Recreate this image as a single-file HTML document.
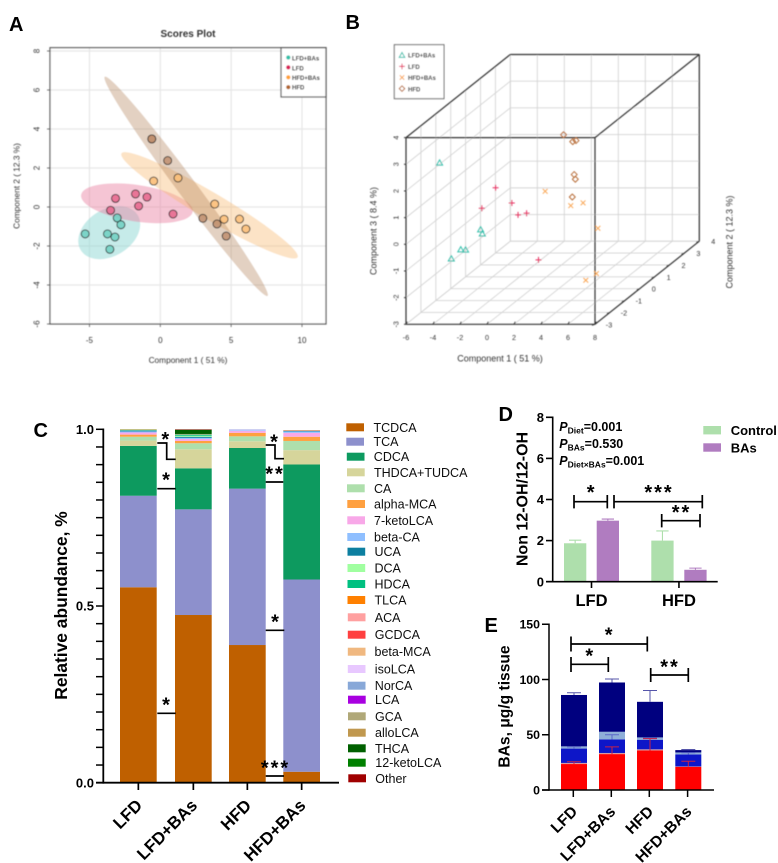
<!DOCTYPE html>
<html lang="en">
<head>
<meta charset="utf-8">
<title>Bile acid figure</title>
<style>
html,body{margin:0;padding:0;background:#fff;width:778px;height:863px;overflow:hidden}
svg{display:block;font-family:"Liberation Sans",sans-serif}
.lg{font-size:12.5px;fill:#111}
.st{font-size:20px;font-weight:bold;text-anchor:middle;fill:#000}
.sl{fill:none;stroke:#000;stroke-width:1.7}
.pl{font-size:20px;font-weight:bold;fill:#000}
.bt{font-weight:bold;fill:#000}
</style>
</head>
<body>
<svg id="figure" width="778" height="863" viewBox="0 0 778 863" xmlns="http://www.w3.org/2000/svg">
<defs>
<filter id="soft" filterUnits="userSpaceOnUse" x="0" y="0" width="778" height="863"><feGaussianBlur stdDeviation="0.4"/></filter>
<filter id="soft2" filterUnits="userSpaceOnUse" x="0" y="0" width="778" height="863"><feGaussianBlur stdDeviation="0.28"/></filter>
</defs>
<rect width="778" height="863" fill="#fff"/>

<g id="panelA" filter="url(#soft)">
  <text x="188" y="37" font-size="10" font-weight="bold" fill="#333" text-anchor="middle">Scores Plot</text>
  <text x="188" y="363" font-size="8.3" fill="#333" text-anchor="middle">Component 1 ( 51 %)</text>
  <text transform="translate(19.5,186) rotate(-90)" font-size="8.3" fill="#333" text-anchor="middle">Component 2 ( 12.3 %)</text>
</g>

<g id="panelB" filter="url(#soft)">
  <text x="500" y="361.5" font-size="9" fill="#333" text-anchor="middle">Component 1 ( 51 %)</text>
  <text transform="translate(376.5,231) rotate(-90)" font-size="9" fill="#333" text-anchor="middle">Component 3 ( 8.4 %)</text>
  <text transform="translate(732.5,242) rotate(-90)" font-size="9" fill="#333" text-anchor="middle">Component 2 ( 12.3 %)</text>
</g>

<g id="panelC" filter="url(#soft2)">
  <text transform="translate(67,605.5) rotate(-90)" font-size="17.4" class="bt" text-anchor="middle">Relative abundance, %</text>
</g>
<g id="cSig" filter="url(#soft2)">
  <polyline class="sl" points="157.3,443 166.7,443 166.7,459.3 175.7,459.3"/>
  <text class="st" x="165.3" y="446">*</text>
  <line class="sl" x1="157.3" x2="175.7" y1="488.7" y2="488.7"/>
  <text class="st" x="166" y="486.7">*</text>
  <line class="sl" x1="157.3" x2="175.7" y1="713.3" y2="713.3"/>
  <text class="st" x="166" y="711.3">*</text>
  <polyline class="sl" points="265.7,445 275,445 275,458.7 284,458.7"/>
  <text class="st" x="274" y="448.3">*</text>
  <line class="sl" x1="265.7" x2="283.3" y1="482" y2="482"/>
  <text class="st" x="275" y="480.7" letter-spacing="2">**</text>
  <line class="sl" x1="265.7" x2="284.3" y1="630.3" y2="630.3"/>
  <text class="st" x="275" y="628.3">*</text>
  <line class="sl" x1="265.7" x2="284" y1="776" y2="776"/>
  <text class="st" x="275.5" y="774.3" letter-spacing="2">***</text>
</g>

<g id="cLegend" filter="url(#soft2)">
  <rect x="346.3" y="423.3" width="17.7" height="8" fill="#BF6000"/><text class="lg" x="373.5" y="431.8">TCDCA</text>
  <rect x="346.3" y="437.7" width="17.7" height="8" fill="#8D90CC"/><text class="lg" x="373.5" y="446.2">TCA</text>
  <rect x="346.8" y="452.7" width="17.7" height="8" fill="#0A9A5F"/><text class="lg" x="373.8" y="461.2">CDCA</text>
  <rect x="347" y="468.3" width="17.7" height="8" fill="#D6D59B"/><text class="lg" x="374" y="476.8">THDCA+TUDCA</text>
  <rect x="347" y="484.3" width="17.7" height="8" fill="#AEDFAC"/><text class="lg" x="374" y="492.8">CA</text>
  <rect x="347.3" y="500" width="17.7" height="8" fill="#FFA040"/><text class="lg" x="374" y="508.5">alpha-MCA</text>
  <rect x="347.3" y="516.3" width="17.7" height="8" fill="#F8A8E8"/><text class="lg" x="374" y="524.8">7-ketoLCA</text>
  <rect x="347.3" y="533" width="17.7" height="8" fill="#8FBFFF"/><text class="lg" x="374" y="541.5">beta-CA</text>
  <rect x="347.5" y="547.7" width="17.7" height="8" fill="#0A7FA0"/><text class="lg" x="374.5" y="556.2">UCA</text>
  <rect x="347.5" y="564" width="17.7" height="8" fill="#A0FFA0"/><text class="lg" x="374.5" y="572.5">DCA</text>
  <rect x="347.5" y="580" width="17.7" height="8" fill="#00C080"/><text class="lg" x="374.5" y="588.5">HDCA</text>
  <rect x="347.5" y="596" width="17.7" height="8" fill="#FF8000"/><text class="lg" x="374.5" y="604.5">TLCA</text>
  <rect x="347.8" y="613.3" width="17.7" height="8" fill="#FFA0A0"/><text class="lg" x="374.8" y="621.8">ACA</text>
  <rect x="347.8" y="630.7" width="17.7" height="8" fill="#FF4040"/><text class="lg" x="374.8" y="639.2">GCDCA</text>
  <rect x="347.8" y="647.7" width="17.7" height="8" fill="#F0B880"/><text class="lg" x="374.5" y="656.2">beta-MCA</text>
  <rect x="347.8" y="665" width="17.7" height="8" fill="#E8C8FF"/><text class="lg" x="374.8" y="673.5">isoLCA</text>
  <rect x="347.8" y="681.7" width="17.7" height="8" fill="#88A8D8"/><text class="lg" x="374.8" y="690.2">NorCA</text>
  <rect x="348" y="695.7" width="17.7" height="8" fill="#A800E0"/><text class="lg" x="375" y="704.2">LCA</text>
  <rect x="348" y="712.3" width="17.7" height="8" fill="#B0A878"/><text class="lg" x="375" y="720.8">GCA</text>
  <rect x="348" y="728.7" width="17.7" height="8" fill="#C09850"/><text class="lg" x="375" y="737.2">alloLCA</text>
  <rect x="348" y="744.3" width="17.7" height="8" fill="#006000"/><text class="lg" x="375" y="752.8">THCA</text>
  <rect x="348" y="758.7" width="17.7" height="8" fill="#008000"/><text class="lg" x="375.3" y="767.2">12-ketoLCA</text>
  <rect x="348.3" y="774.3" width="17.7" height="8" fill="#A00000"/><text class="lg" x="375.3" y="782.8">Other</text>
</g>

<g id="panelD" filter="url(#soft2)">
  <text transform="translate(527.5,499) rotate(-90)" font-size="16" class="bt" text-anchor="middle">Non 12-OH/12-OH</text>
  <text x="559.3" y="431" font-size="12.5" class="bt"><tspan font-style="italic">P</tspan><tspan font-size="8.5" dy="2.5">Diet</tspan><tspan dy="-2.5">=0.001</tspan></text>
  <text x="559.3" y="448" font-size="12.5" class="bt"><tspan font-style="italic">P</tspan><tspan font-size="8.5" dy="2.5">BAs</tspan><tspan dy="-2.5">=0.530</tspan></text>
  <text x="559.3" y="465" font-size="12.5" class="bt"><tspan font-style="italic">P</tspan><tspan font-size="8.5" dy="2.5">Diet×BAs</tspan><tspan dy="-2.5">=0.001</tspan></text>
  <rect x="703.3" y="426" width="17.7" height="8.4" fill="#AEDFAC"/>
  <text x="730.7" y="435" font-size="13" class="bt">Control</text>
  <rect x="703.3" y="443.3" width="17.7" height="8.4" fill="#B07CC0"/>
  <text x="730.7" y="452.5" font-size="13" class="bt">BAs</text>
  <path class="sl" d="M574 495v13.4M574 501.7H607.3M607.3 495v13.4M614 495v13.4M614 501.7H702.3M702.3 495v13.4M661.7 514v13.4M661.7 520.7H700M700 514v13.4"/>
  <text class="st" x="590.7" y="499">*</text>
  <text class="st" x="659" y="499" letter-spacing="2">***</text>
  <text class="st" x="681.5" y="519" letter-spacing="2">**</text>
</g>

<g id="panelE" filter="url(#soft2)">
  <text transform="translate(509.5,706.5) rotate(-90)" font-size="15.6" class="bt" text-anchor="middle">BAs, μg/g tissue</text>
</g>
<g id="eSig" filter="url(#soft2)">
  <path class="sl" d="M571 636.5v15M571 644H647.3M647.3 636.5v15M571 657v15M571 664.3H608.3M608.3 657v15M650.7 668v14M650.7 675H688.3M688.3 668v14"/>
  <text class="st" x="608.7" y="641.7">*</text>
  <text class="st" x="589.3" y="662.3">*</text>
  <text class="st" x="670" y="673.3" letter-spacing="2">**</text>
</g>

<text class="pl" x="9" y="31">A</text>
<text class="pl" x="345.5" y="29">B</text>
<text class="pl" x="33.5" y="437">C</text>
<text class="pl" x="498.5" y="421">D</text>
<text class="pl" x="484.5" y="632">E</text>
</svg>

<script>
// ---------- Panel A / B data ----------
const groupNames = ['LFD+BAs', 'LFD', 'HFD+BAs', 'HFD'];
const scoreC1LfdBas = [-5.3, -3.73, -3.2, -3.56, -3.04, -2.78];
const scoreC2LfdBas = [-1.38, -1.38, -1.54, -2.17, -0.56, -0.91];
const scoreC1Lfd = [-3.16, -3.51, -1.75, -1.53, -0.94, 0.9];
const scoreC2Lfd = [0.44, -0.17, 0.67, 0.05, 0.51, -0.36];
const scoreC1HfdBas = [-0.47, 1.25, 3.84, 4.5, 5.59, 6.04];
const scoreC2HfdBas = [1.33, 1.49, 0.15, -0.63, -0.62, -1.13];
const scoreC1Hfd = [-0.6, -0.6, 0.52, 3.0, 4.0, 4.65];
const scoreC2Hfd = [3.49, 3.49, 2.38, -0.58, -0.87, -1.49];
const ellipseStartC1 = [-5.61, -5.59, -2.74, -3.92];
const ellipseStartC2 = [-2.22, 0.62, 2.75, 6.68];
const ellipseEndC1 = [-1.6, 2.29, 9.69, 7.57];
const ellipseEndC2 = [-0.41, -0.24, -2.58, -4.56];
const ellipseMinorC1Units = [1.65, 1.29, 0.94, 0.67];
const aTicksC1 = [-5, 0, 5, 10];
const aTicksC2 = [-6, -4, -2, 0, 2, 4, 6, 8];

const cubeC1LfdBas = [-5.3, -3.73, -3.2, -3.56, -3.04, -2.78];
const cubeC2LfdBas = [-1.38, -1.38, -1.54, -2.17, -0.56, -0.91];
const cubeC3LfdBas = [2.33, -0.92, -0.86, -0.91, -0.69, -0.38];
const cubeC1Lfd = [-3.16, -3.51, -1.75, -1.53, -0.94, 0.9];
const cubeC2Lfd = [0.44, -0.17, 0.67, 0.05, 0.51, -0.36];
const cubeC3Lfd = [0.59, 0.09, -0.53, 0.19, -0.4, -1.76];
const cubeC1HfdBas = [-0.47, 1.25, 3.84, 4.5, 5.59, 6.04];
const cubeC2HfdBas = [1.33, 1.49, 0.15, -0.63, -0.62, -1.13];
const cubeC3HfdBas = [0.06, -0.55, -2.75, 0.5, -0.46, -1.93];
const cubeC1Hfd = [3.0, 4.0, 4.65, 0.52, -0.62, -0.57];
const cubeC2Hfd = [-0.58, -0.87, -1.49, 2.38, 3.49, 3.49];
const cubeC3Hfd = [3.03, 2.9, 1.1, 0.22, -0.45, 1.0];
const bTicksC1 = [-6, -4, -2, 0, 2, 4, 6, 8];
const bTicksC2 = [-3, -2, -1, 0, 1, 2, 3, 4];
const bTicksC3 = [-3, -2, -1, 0, 1, 2, 3, 4];

// ---------- Panel C data ----------
const cCategories = ['LFD', 'LFD+BAs', 'HFD', 'HFD+BAs'];
const cCompounds = ['TCDCA','TCA','CDCA','THDCA+TUDCA','CA','alpha-MCA','7-ketoLCA','beta-CA','UCA','DCA','HDCA','TLCA','ACA','GCDCA','beta-MCA','isoLCA','NorCA','LCA','GCA','alloLCA','THCA','12-ketoLCA','Other'];
const cLfd = [0.553,0.259,0.141,0.015,0.011,0.006,0.006,0.003,0.003,0.001,0.001,0.001,0,0,0,0,0,0,0,0,0,0,0];
const cLfdBas = [0.4745,0.299,0.116,0.054,0.017,0.0066,0.0057,0.003,0.003,0.003,0.003,0,0,0,0,0,0,0,0.002,0,0.012,0,0.0012];
const cHfd = [0.3896,0.4425,0.115,0.019,0.014,0.01,0.005,0.002,0,0,0,0,0,0,0,0.002,0.001,0,0,0,0,0,0];
const cHfdBas = [0.031,0.544,0.3255,0.0405,0.026,0.012,0.011,0.004,0.002,0,0,0.001,0.001,0,0,0,0,0,0,0,0,0,0];
const cTickValues = [0, 0.05, 0.1, 0.15, 0.2, 0.25, 0.3, 0.35, 0.4, 0.45, 0.5, 0.55, 0.6, 0.65, 0.7, 0.75, 0.8, 0.85, 0.9, 0.95, 1];
const cTickLabels = ['0.0', '0.5', '1.0'];

// ---------- Panel D data ----------
const dCategories = ['LFD', 'HFD'];
const dControl = [1.87, 2.0];
const dBas = [2.97, 0.58];
const dControlErr = [0.15, 0.47];
const dBasErr = [0.08, 0.08];
const dTicks = [0, 2, 4, 6, 8];

// ---------- Panel E data ----------
const eCategories = ['LFD', 'LFD+BAs', 'HFD', 'HFD+BAs'];
const eRed = [23.5, 32.5, 35.8, 21];
const ePink = [1, 1, 1, 0.3];
const eBlue = [13, 12.3, 8.7, 10.9];
const eLight = [2, 6.9, 2.1, 1.8];
const eNavy = [46.5, 44.6, 32.2, 2.1];
const eRedErr = [2.1, 6.5, 10.7, 5];
const eBlueErr = [1.5, 4.2, 1.5, 1.5];
const eNavyErr = [2, 3.2, 10.2, 0.5];
const eTicks = [0, 50, 100, 150];

// ---------- helpers ----------
const NS = 'http://www.w3.org/2000/svg';
function make(parent, tag, attrs, text) {
  const el = document.createElementNS(NS, tag);
  for (const k in attrs) el.setAttribute(k, attrs[k]);
  if (text !== undefined) el.textContent = text;
  parent.appendChild(el);
  return el;
}
let el;

// ---------- Panel A ----------
const gA = document.getElementById('panelA');
const ax = v => 160.3 + v * 14.17;
const ay = v => 207 - v * 19.5;
const groupFill = ['#6FD0C2', '#E6658C', '#FBBE78', '#BF8F6F'];
const ellipseFill = ['#8ED8D4', '#E87FA0', '#F8B870', '#B07A50'];
const ellipseAlpha = [0.5, 0.45, 0.4, 0.35];

el = make(gA, 'rect', {x: 50, y: 47.7, width: 276, height: 276.3, fill: '#fff'});


aTicksC1.forEach(t => {
  el = make(gA, 'line', {x1: ax(t), x2: ax(t), y1: 47.7, y2: 324, stroke: '#e6e6e6', 'stroke-width': 1.2});
  
  
  el = make(gA, 'line', {x1: ax(t), x2: ax(t), y1: 324, y2: 327, stroke: '#555', 'stroke-width': 0.8});
  
  
  el = make(gA, 'text', {x: ax(t), y: 343, 'font-size': 8, fill: '#333', 'text-anchor': 'middle'}, String(t));
  
  
});
aTicksC2.forEach(t => {
  el = make(gA, 'line', {x1: 50, x2: 326, y1: ay(t), y2: ay(t), stroke: '#e6e6e6', 'stroke-width': 1.2});
  
  
  el = make(gA, 'line', {x1: 47, x2: 50, y1: ay(t), y2: ay(t), stroke: '#555', 'stroke-width': 0.8});
  
  
  el = make(gA, 'text', {transform: 'translate(39.5,' + ay(t) + ') rotate(-90)', 'font-size': 8, fill: '#333', 'text-anchor': 'middle'}, String(t));
  
  
});
groupNames.forEach((name, i) => {
  const x1 = ax(ellipseStartC1[i]), y1 = ay(ellipseStartC2[i]);
  const x2 = ax(ellipseEndC1[i]), y2 = ay(ellipseEndC2[i]);
  const cx = (x1 + x2) / 2, cy = (y1 + y2) / 2;
  const rx = Math.hypot(x2 - x1, y2 - y1) / 2;
  const ry = ellipseMinorC1Units[i] * 14.17;
  const deg = Math.atan2(y2 - y1, x2 - x1) * 180 / Math.PI;
  el = make(gA, 'ellipse', {cx: cx, cy: cy, rx: rx, ry: ry, transform: 'rotate(' + deg + ' ' + cx + ' ' + cy + ')', fill: ellipseFill[i], 'fill-opacity': ellipseAlpha[i]});
  
  
});
const aC1 = [scoreC1LfdBas, scoreC1Lfd, scoreC1HfdBas, scoreC1Hfd];
const aC2 = [scoreC2LfdBas, scoreC2Lfd, scoreC2HfdBas, scoreC2Hfd];
groupNames.forEach((name, i) => {
  aC1[i].forEach((v, j) => {
    el = make(gA, 'circle', {cx: ax(v), cy: ay(aC2[i][j]), r: 4, fill: groupFill[i], 'fill-opacity': 0.85, stroke: '#222', 'stroke-width': 0.9});
    
    
  });
});
el = make(gA, 'rect', {x: 50, y: 47.7, width: 276, height: 276.3, fill: 'none', stroke: '#555', 'stroke-width': 1.2});


el = make(gA, 'rect', {x: 281, y: 47.7, width: 45, height: 49.3, fill: '#fff', stroke: '#555', 'stroke-width': 1.2});


groupNames.forEach((name, i) => {
  el = make(gA, 'circle', {cx: 288.3, cy: 57.5 + i * 9.9, r: 2.1, fill: ['#2FBFA8', '#D81B55', '#FFA030', '#B0632A'][i]});
  
  
  el = make(gA, 'text', {x: 292, y: 60.7 + i * 9.6, 'font-size': 6, 'font-weight': 'bold', fill: '#000'}, name);
  
  
});

// ---------- Panel B ----------
const gB = document.getElementById('panelB');
const bx = (c1, c2) => 406 + (c1 + 6) * 13.5 + (c2 + 3) * 14.9;
const by = (c2, c3) => 324.3 - (c3 + 3) * 26.67 - (c2 + 3) * 11.87;
const gridAttrs = {stroke: '#d4d4d4', 'stroke-width': 0.9};
function gridLine(a, b, c, d) {
  const attrs = Object.assign({x1: a, y1: b, x2: c, y2: d}, gridAttrs);
  return make(gB, 'line', attrs);
}
bTicksC1.forEach(t => {
  el = gridLine(bx(t, 4), by(4, -3), bx(t, 4), by(4, 4));
  
  
  el = gridLine(bx(t, -3), by(-3, -3), bx(t, 4), by(4, -3));
  
  
});
bTicksC3.forEach(t => {
  el = gridLine(bx(-6, 4), by(4, t), bx(8, 4), by(4, t));
  
  
  el = gridLine(bx(-6, -3), by(-3, t), bx(-6, 4), by(4, t));
  
  
});
bTicksC2.forEach(t => {
  el = gridLine(bx(-6, t), by(t, -3), bx(8, t), by(t, -3));
  
  
  el = gridLine(bx(-6, t), by(t, -3), bx(-6, t), by(t, 4));
  
  
});
const boxEdges = [
  [-6,-3,-3, 8,-3,-3], [-6,-3,4, 8,-3,4], [-6,-3,-3, -6,-3,4], [8,-3,-3, 8,-3,4],
  [-6,4,4, 8,4,4], [8,4,-3, 8,4,4], [-6,-3,4, -6,4,4], [8,-3,4, 8,4,4], [8,-3,-3, 8,4,-3]
];
boxEdges.forEach(e => {
  el = make(gB, 'line', {x1: bx(e[0], e[1]), y1: by(e[1], e[2]), x2: bx(e[3], e[4]), y2: by(e[4], e[5]), stroke: '#333', 'stroke-width': 1.2});
  
  
});
bTicksC1.forEach(t => {
  el = make(gB, 'line', {x1: bx(t, -3), x2: bx(t, -3) + 1.4, y1: by(-3, -3), y2: by(-3, -3) - 2.5, stroke: '#333', 'stroke-width': 1});
  
  
  el = make(gB, 'text', {x: bx(t, -3), y: 340, 'font-size': 7.2, fill: '#333', 'text-anchor': 'middle'}, String(t));
  
  
});
bTicksC3.forEach(t => {
  el = make(gB, 'line', {x1: bx(-6, -3), x2: bx(-6, -3) - 2, y1: by(-3, t), y2: by(-3, t), stroke: '#333', 'stroke-width': 1});
  
  
  el = make(gB, 'text', {transform: 'translate(398.5,' + by(-3, t) + ') rotate(-90)', 'font-size': 7.2, fill: '#333', 'text-anchor': 'middle'}, String(t));
  
  
});
bTicksC2.forEach(t => {
  el = make(gB, 'line', {x1: bx(8, t), x2: bx(8, t) - 3, y1: by(t, -3), y2: by(t, -3) + 1, stroke: '#333', 'stroke-width': 1});
  
  
  el = make(gB, 'text', {x: bx(8, t) + 14, y: by(t, -3) + 3, 'font-size': 7.2, fill: '#333', 'text-anchor': 'middle'}, String(t));
  
  
});
const markerColor = ['#34BFAC', '#E62E60', '#F9A858', '#B86E3A'];
function marker(kind, x, y, s) {
  const c = markerColor[kind];
  if (kind === 0) return make(gB, 'polygon', {points: (x) + ',' + (y - s) + ' ' + (x + s) + ',' + (y + s * 0.75) + ' ' + (x - s) + ',' + (y + s * 0.75), fill: 'none', stroke: c, 'stroke-width': 1});
  if (kind === 1) return make(gB, 'path', {d: 'M' + (x - s) + ' ' + y + 'H' + (x + s) + 'M' + x + ' ' + (y - s) + 'V' + (y + s), fill: 'none', stroke: c, 'stroke-width': 1});
  if (kind === 2) return make(gB, 'path', {d: 'M' + (x - s * 0.8) + ' ' + (y - s * 0.8) + 'L' + (x + s * 0.8) + ' ' + (y + s * 0.8) + 'M' + (x + s * 0.8) + ' ' + (y - s * 0.8) + 'L' + (x - s * 0.8) + ' ' + (y + s * 0.8), fill: 'none', stroke: c, 'stroke-width': 1});
  return make(gB, 'polygon', {points: x + ',' + (y - s) + ' ' + (x + s) + ',' + y + ' ' + x + ',' + (y + s) + ' ' + (x - s) + ',' + y, fill: 'none', stroke: c, 'stroke-width': 1, 'stroke-linejoin': 'round'});
}
const bC1 = [cubeC1LfdBas, cubeC1Lfd, cubeC1HfdBas, cubeC1Hfd];
const bC2 = [cubeC2LfdBas, cubeC2Lfd, cubeC2HfdBas, cubeC2Hfd];
const bC3 = [cubeC3LfdBas, cubeC3Lfd, cubeC3HfdBas, cubeC3Hfd];
groupNames.forEach((name, i) => {
  bC1[i].forEach((v, j) => {
    el = marker(i, bx(v, bC2[i][j]), by(bC2[i][j], bC3[i][j]), 3);
    
    
  });
});
el = make(gB, 'rect', {x: 394.3, y: 44.7, width: 49.7, height: 54, fill: '#fff', stroke: '#666', 'stroke-width': 1});


groupNames.forEach((name, i) => {
  el = marker(i, 402, 55.3 + i * 11.1, 2.8);
  
  
  el = make(gB, 'text', {x: 408, y: 57.5 + i * 11.3, 'font-size': 6, 'font-weight': 'bold', fill: '#111'}, name);
  
  
});

// ---------- Panel C ----------
const gC = document.getElementById('panelC');
const cy = v => 782.7 - v * 353.4;
const cBarLeft = [120, 175, 229, 283.3];
const cBarWidth = 36.7;
const cColors = ['#BF6000','#8D90CC','#0A9A5F','#D6D59B','#AEDFAC','#FFA040','#F8A8E8','#8FBFFF','#0A7FA0','#A0FFA0','#00C080','#FF8000','#FFA0A0','#FF4040','#F0B880','#E8C8FF','#88A8D8','#A800E0','#B0A878','#C09850','#006000','#008000','#A00000'];
const cStacks = [cLfd, cLfdBas, cHfd, cHfdBas];
cStacks.forEach((stack, i) => {
  let base = 0;
  stack.forEach((v, k) => {
    if (v > 0) {
      el = make(gC, 'rect', {x: cBarLeft[i], y: cy(base + v), width: cBarWidth, height: v * 353.4, fill: cColors[k]});
      
      
    }
    base += v;
  });
});
el = make(gC, 'line', {x1: 103.3, x2: 103.3, y1: 428.5, y2: 783.6, stroke: '#000', 'stroke-width': 1.8});


el = make(gC, 'line', {x1: 96, x2: 339, y1: 782.7, y2: 782.7, stroke: '#000', 'stroke-width': 1.8});


cTickValues.forEach(t => {
  el = make(gC, 'line', {x1: 96, x2: 103.3, y1: cy(t), y2: cy(t), stroke: '#000', 'stroke-width': 1.5});
  
  
});
cTickLabels.forEach(t => {
  el = make(gC, 'text', {x: 94, y: cy(parseFloat(t)) + 4.6, 'font-size': 13, class: 'bt', 'text-anchor': 'end'}, t);
  
  
});
cCategories.forEach((name, i) => {
  const tx = cBarLeft[i] + cBarWidth / 2;
  el = make(gC, 'line', {x1: tx, x2: tx, y1: 782.7, y2: 790, stroke: '#000', 'stroke-width': 1.7});
  
  
  el = make(gC, 'text', {transform: 'translate(' + (tx + 5) + ',806.5) rotate(-45)', 'font-size': 17, class: 'bt', 'text-anchor': 'end'}, name);
  
  
});

// ---------- Panel D ----------
const gD = document.getElementById('panelD');
const dy = v => 581.7 - v * 20.55;
const dLeftControl = [564, 651.3];
const dLeftBas = [596.7, 684.3];
const dBarW = 22.3;
function dBar(left, v, e, fill) {
  const mid = left + dBarW / 2;
  const path = make(gD, 'path', {d: 'M' + mid + ' ' + dy(v) + 'V' + dy(v + e) + 'M' + (left + 5) + ' ' + dy(v + e) + 'H' + (left + dBarW - 5), stroke: fill, 'stroke-width': 1.1, fill: 'none'});
  
  
  return make(gD, 'rect', {x: left, y: dy(v), width: dBarW, height: v * 20.55, fill: fill});
}
dCategories.forEach((name, i) => {
  el = dBar(dLeftControl[i], dControl[i], dControlErr[i], '#AEDFAC');
  
  
  el = dBar(dLeftBas[i], dBas[i], dBasErr[i], '#B07CC0');
  
  
  const tx = (dLeftControl[i] + dLeftBas[i] + dBarW) / 2;
  el = make(gD, 'line', {x1: tx, x2: tx, y1: 581.7, y2: 588, stroke: '#000', 'stroke-width': 1.6});
  
  
  el = make(gD, 'text', {x: tx, y: 606, 'font-size': 16.5, class: 'bt', 'text-anchor': 'middle'}, name);
  
  
});
el = make(gD, 'line', {x1: 552.7, x2: 552.7, y1: 416.5, y2: 582.5, stroke: '#000', 'stroke-width': 1.6});


el = make(gD, 'line', {x1: 546, x2: 717.7, y1: 581.7, y2: 581.7, stroke: '#000', 'stroke-width': 1.6});


dTicks.forEach(t => {
  el = make(gD, 'line', {x1: 546, x2: 552.7, y1: dy(t), y2: dy(t), stroke: '#000', 'stroke-width': 1.6});
  
  
  el = make(gD, 'text', {x: 544, y: dy(t) + 4.6, 'font-size': 13, class: 'bt', 'text-anchor': 'end'}, String(t));
  
  
});

// ---------- Panel E ----------
const gE = document.getElementById('panelE');
const ey = v => 790 - v * 1.105;
const eLeft = [561, 599, 637, 675.3];
const eBarW = 26;
const eSeries = [eRed, ePink, eBlue, eLight, eNavy];
const eColors = ['#FF0000', '#D89AA0', '#0A14C8', '#8FAFD8', '#00007F'];
eCategories.forEach((name, i) => {
  let base = 0;
  eSeries.forEach((s, k) => {
    el = make(gE, 'rect', {x: eLeft[i], y: ey(base + s[i]), width: eBarW, height: s[i] * 1.105, fill: eColors[k]});
    
    
    base += s[i];
  });
});
function eWhisker(i, top, err, color) {
  const mid = eLeft[i] + eBarW / 2;
  return make(gE, 'path', {d: 'M' + mid + ' ' + ey(top) + 'V' + ey(top + err) + 'M' + (eLeft[i] + 6) + ' ' + ey(top + err) + 'H' + (eLeft[i] + eBarW - 6), stroke: color, 'stroke-width': 1, fill: 'none'});
}
eCategories.forEach((name, i) => {
  const redTop = eRed[i];
  const blueTop = redTop + ePink[i] + eBlue[i];
  const navyTop = blueTop + eLight[i] + eNavy[i];
  el = eWhisker(i, navyTop, eNavyErr[i], '#5555AA');
  
  
  el = eWhisker(i, blueTop, eBlueErr[i], '#5A68C8');
  
  
  el = eWhisker(i, redTop, eRedErr[i], '#C8204A');
  
  
  const tx = eLeft[i] + eBarW / 2 - 0.7;
  el = make(gE, 'line', {x1: tx, x2: tx, y1: 790, y2: 797, stroke: '#000', 'stroke-width': 1.5});
  
  
  el = make(gE, 'text', {transform: 'translate(' + (tx + 5) + ',812.5) rotate(-45)', 'font-size': 15.5, class: 'bt', 'text-anchor': 'end'}, name);
  
  
});
el = make(gE, 'line', {x1: 549, x2: 549, y1: 623.5, y2: 790.8, stroke: '#000', 'stroke-width': 1.5});


el = make(gE, 'line', {x1: 542, x2: 714, y1: 790, y2: 790, stroke: '#000', 'stroke-width': 1.5});


eTicks.forEach(t => {
  el = make(gE, 'line', {x1: 542, x2: 549, y1: ey(t), y2: ey(t), stroke: '#000', 'stroke-width': 1.5});
  
  
  el = make(gE, 'text', {x: 540, y: ey(t) + 4.4, 'font-size': 12.3, class: 'bt', 'text-anchor': 'end'}, String(t));
  
  
});
</script>
</body>
</html>
